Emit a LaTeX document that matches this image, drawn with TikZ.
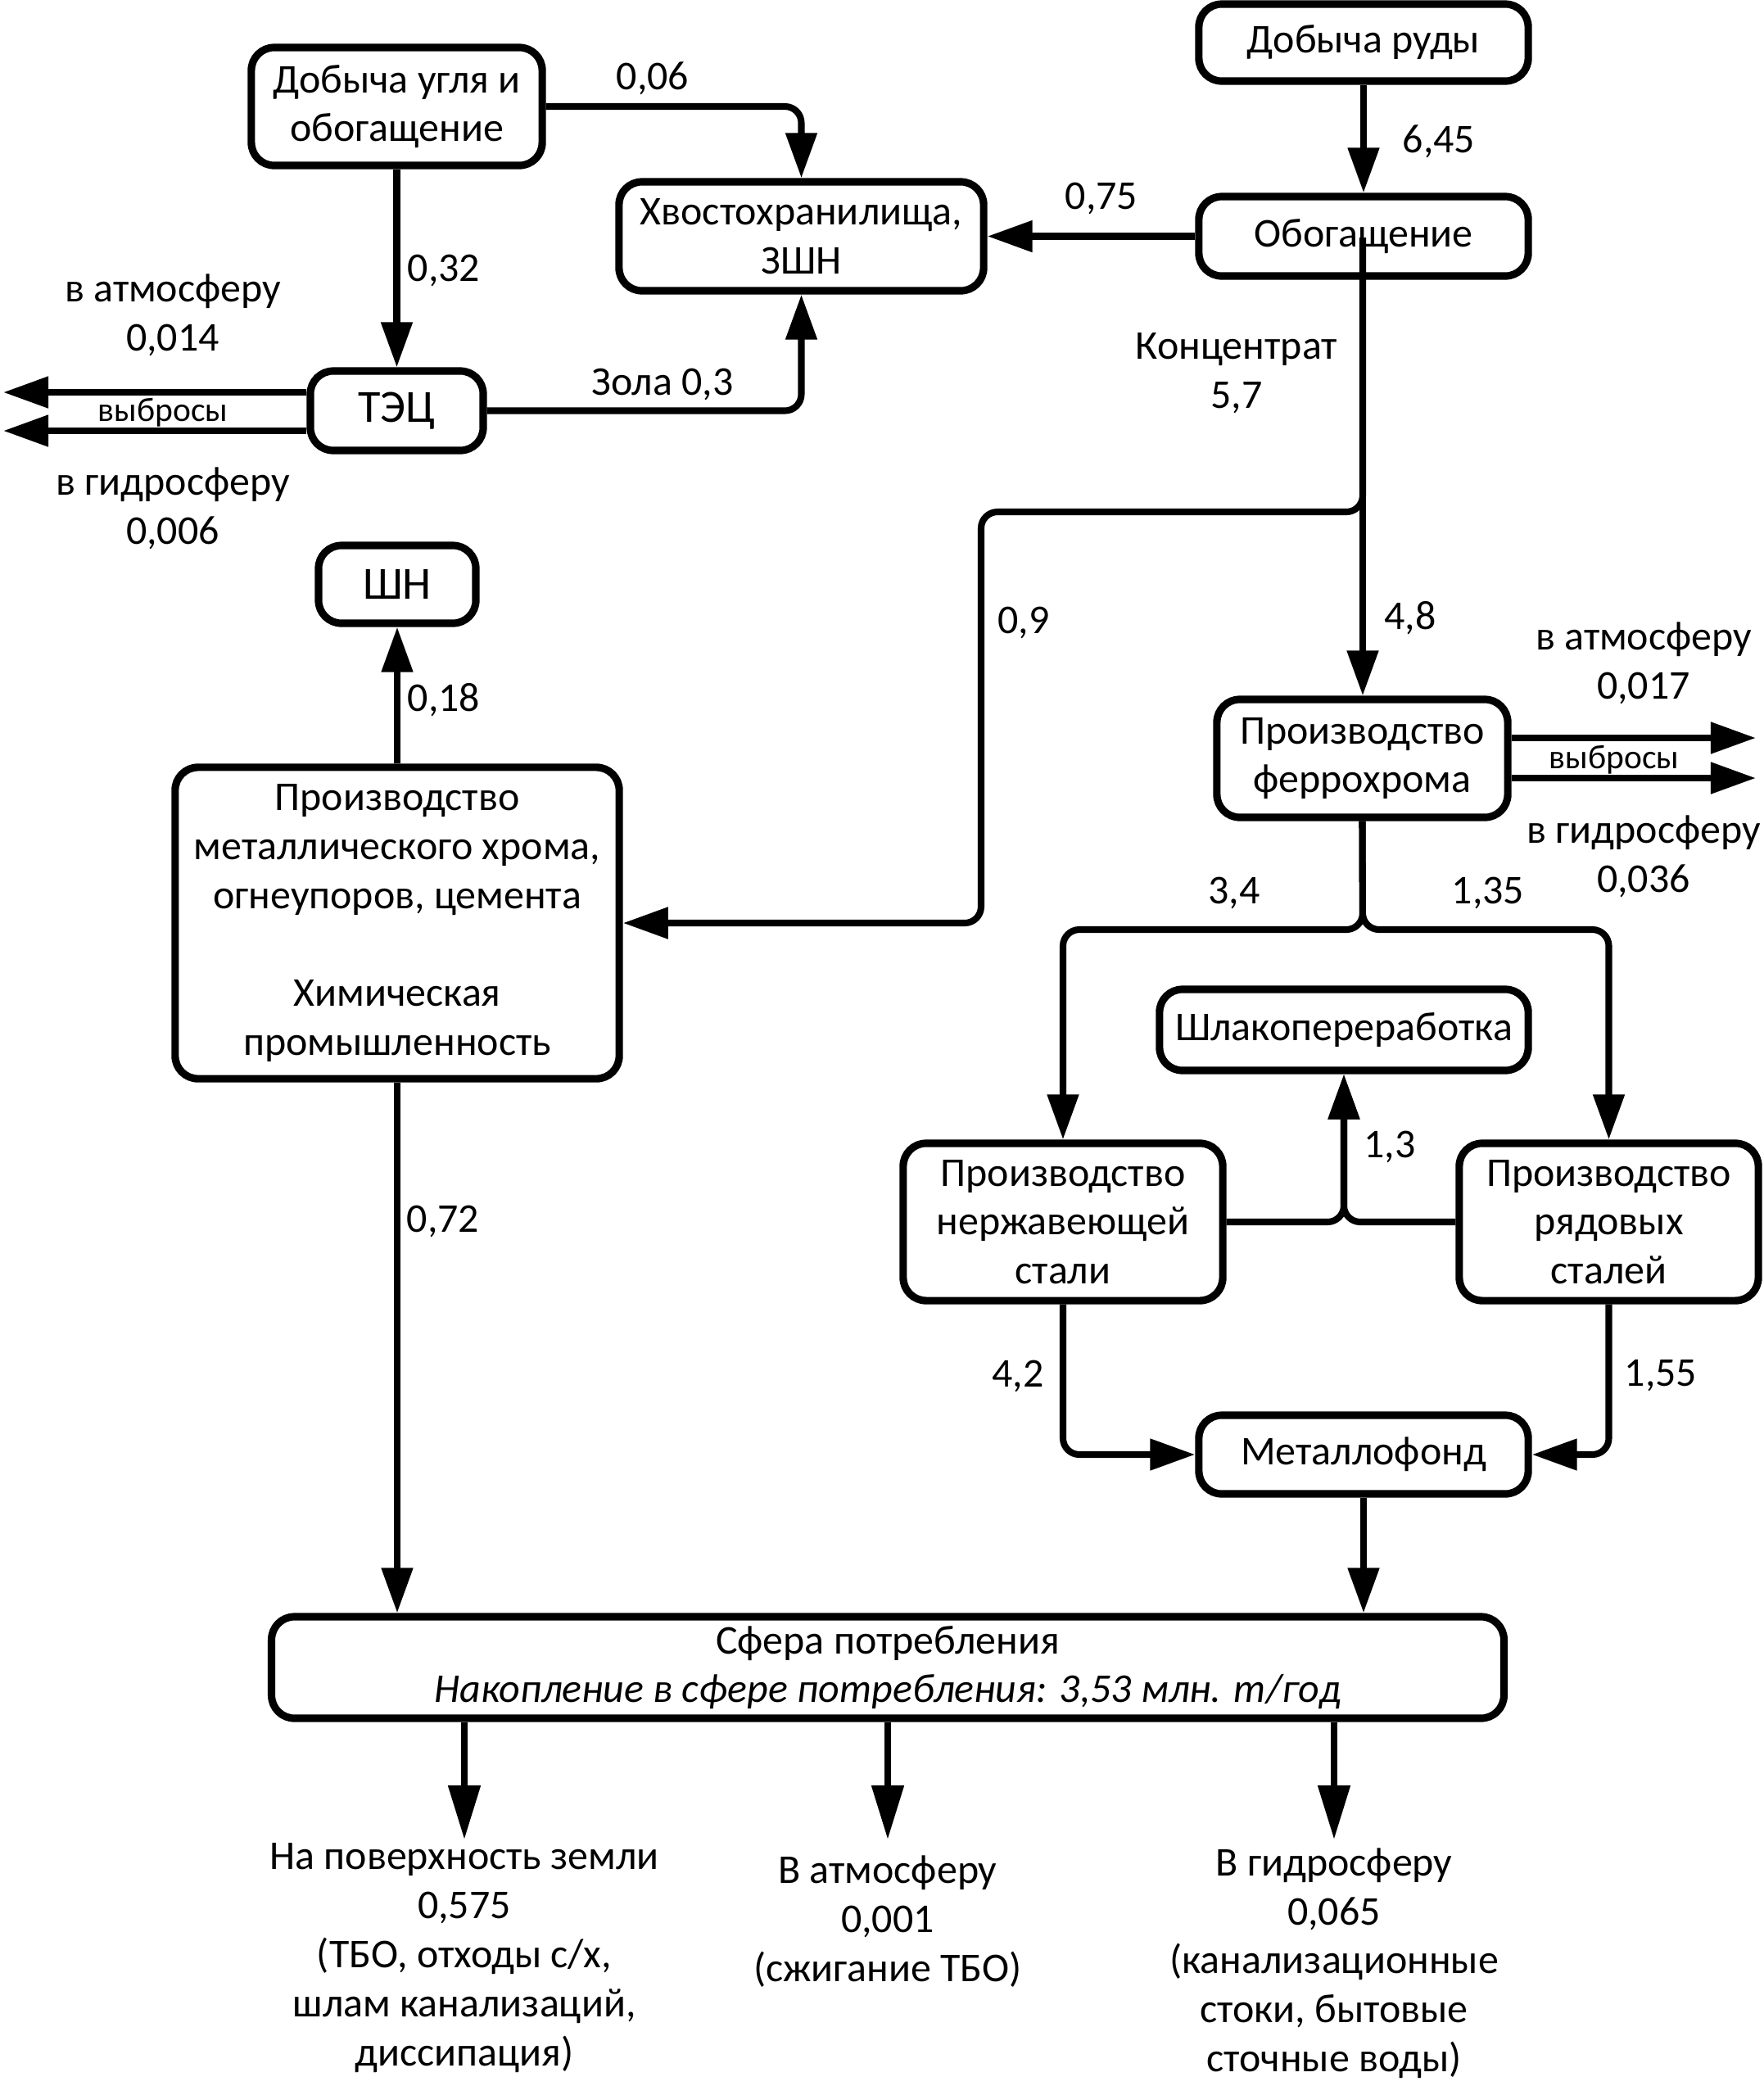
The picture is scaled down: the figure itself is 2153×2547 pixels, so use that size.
\documentclass[tikz,border=0pt]{standalone}
\usepackage{fontspec}
\setmainfont{Carlito}
\usetikzlibrary{arrows.meta}
\tikzset{
  box/.style={draw, line width=2.6pt, rounded corners=0.28cm, align=center, fill=white, inner sep=0pt},
  arr/.style={line width=2.3pt, rounded corners=0.2cm, -{Triangle[length=0.55cm,width=0.37cm]}},
  arrlong/.style={line width=2.3pt, -{Triangle[length=0.66cm,width=0.38cm]}},
  lbl/.style={align=center, inner sep=0pt},
  small/.style={font=\fontsize{11.8pt}{14pt}\selectfont},
  big/.style={font=\fontsize{16pt}{19pt}\selectfont}
}
\begin{document}
\begin{tikzpicture}[x=0.01cm, y=-0.01cm, font=\fontsize{14.2pt}{17pt}\selectfont]
\useasboundingbox (0,0) rectangle (2153,2547);
% boxes
\node[box, minimum width=3.55cm, minimum height=1.44cm] (coal) at (484.5,130) {Добыча угля и\\обогащение};
\node[box, minimum width=4.45cm, minimum height=1.33cm] (tail) at (978.5,288.5) {Хвостохранилища,\\ЗШН};
\node[box, minimum width=4.02cm, minimum height=0.94cm] (ore) at (1665,52) {Добыча руды};
\node[box, minimum width=4.02cm, minimum height=0.97cm] (obog) at (1665,288.5) {Обогащение};
\node[box, big, minimum width=2.11cm, minimum height=0.97cm] (tec) at (484.5,501.5) {ТЭЦ};
\node[box, big, minimum width=1.92cm, minimum height=0.95cm] (shn) at (485,713.5) {ШН};
\node[box, minimum width=5.42cm, minimum height=3.80cm] (chem) at (485,1127) {Производство\\металлического хрома,\\огнеупоров, цемента\\[17pt]Химическая\\промышленность};
\node[box, minimum width=3.55cm, minimum height=1.44cm] (ferro) at (1663.5,926) {Производство\\феррохрома};
\node[box, minimum width=4.50cm, minimum height=0.99cm] (shlak) at (1641,1257.5) {Шлакопереработка};
\node[box, minimum width=3.90cm, minimum height=1.92cm] (stain) at (1298,1492) {Производство\\нержавеющей\\стали};
\node[box, minimum width=3.65cm, minimum height=1.92cm] (ord) at (1964.5,1492) {Производство\\рядовых\\сталей};
\node[box, minimum width=4.02cm, minimum height=0.96cm] (metal) at (1665,1776) {Металлофонд};
\node[box, minimum width=15.04cm, minimum height=1.24cm] (sphere) at (1084,2036) {Сфера потребления\\\textit{Накопление в сфере потребления: 3,53 млн. т/год}};
% bottom texts
\node[lbl] (t1) at (567,2390.5) {На поверхность земли\\0,575\\(ТБО, отходы с/х,\\шлам канализаций,\\диссипация)};
\node[lbl] (t2) at (1084,2346) {В атмосферу\\0,001\\(сжигание ТБО)};
\node[lbl] (t3) at (1629,2397) {В гидросферу\\0,065\\(канализационные\\стоки, бытовые\\сточные воды)};
% coordinates
\coordinate (e1) at (567,2246);
\coordinate (e2) at (1084,2246);
\coordinate (e3) at (1629,2246);
\coordinate (tecA) at (4,479);
\coordinate (tecB) at (4,526);
\coordinate (feA) at (2144,901);
\coordinate (feB) at (2144,950);
\coordinate (obt) at (1664,290);
\coordinate (br) at (1198,625);
\coordinate (fk) at (1664,1135);
\coordinate (mg) at (1641,1492);
% connectors
\draw[arr] (coal.east) -| (tail.north);
\draw[arr] (tec.east) -| (tail.south);
\draw[arr] (coal.south) -- (tec.north);
\draw[arr] (tec.west |- tecA) -- (tecA);
\draw[arr] (tec.west |- tecB) -- (tecB);
\draw[arr] (ore.south) -- (obog.north);
\draw[arr] (obog.west) -- (tail.east);
\draw[arr] (obt) -- (obt |- ferro.north);
\draw[arr] (obt) |- (br) |- (chem.east);
\draw[arr] (chem.north) -- (shn.south);
\draw[arr] (chem.south) -- (chem.south |- sphere.north);
\draw[arr] (ferro.east |- feA) -- (feA);
\draw[arr] (ferro.east |- feB) -- (feB);
\draw[arr] (ferro.south) -- (fk) -| (stain.north);
\draw[arr] (ferro.south) -- (fk) -| (ord.north);
\draw[arr] (stain.east) -- (mg) -- (shlak.south);
\draw[arr] (ord.west) -- (mg) -- (shlak.south);
\draw[arr] (stain.south) |- (metal.west);
\draw[arr] (ord.south) |- (metal.east);
\draw[arr] (metal.south) -- (metal.south |- sphere.north);
\draw[arrlong] (e1 |- sphere.south) -- (e1);
\draw[arrlong] (e2 |- sphere.south) -- (e2);
\draw[arrlong] (e3 |- sphere.south) -- (e3);
% labels
\node[lbl] (l006) at (797,96) {0,06};
\node[lbl] (l032) at (542,330) {0,32};
\node[lbl] (latm1) at (211,385) {в атмосферу\\0,014};
\node[lbl, small] (lvyb1) at (199,504) {выбросы};
\node[lbl] (lhyd1) at (211,621) {в гидросферу\\0,006};
\node[lbl] (lzola) at (809,469) {Зола 0,3};
\node[lbl] (l645) at (1757,173) {6,45};
\node[lbl] (l075) at (1345,242) {0,75};
\node[lbl] (lconc) at (1510,455.5) {Концентрат\\5,7};
\node[lbl] (l09) at (1250,760) {0,9};
\node[lbl] (l48) at (1722,755) {4,8};
\node[lbl] (l018) at (542,855) {0,18};
\node[lbl] (latm2) at (2007,809.5) {в атмосферу\\0,017};
\node[lbl, small] (lvyb2) at (1971,928) {выбросы};
\node[lbl] (lhyd2) at (2007,1045.5) {в гидросферу\\0,036};
\node[lbl] (l34) at (1507,1090) {3,4};
\node[lbl] (l135) at (1817,1090) {1,35};
\node[lbl] (l13) at (1697,1400) {1,3};
\node[lbl] (l42) at (1243,1680) {4,2};
\node[lbl] (l155) at (2028,1680) {1,55};
\node[lbl] (l072) at (541,1491) {0,72};
\end{tikzpicture}
\end{document}
